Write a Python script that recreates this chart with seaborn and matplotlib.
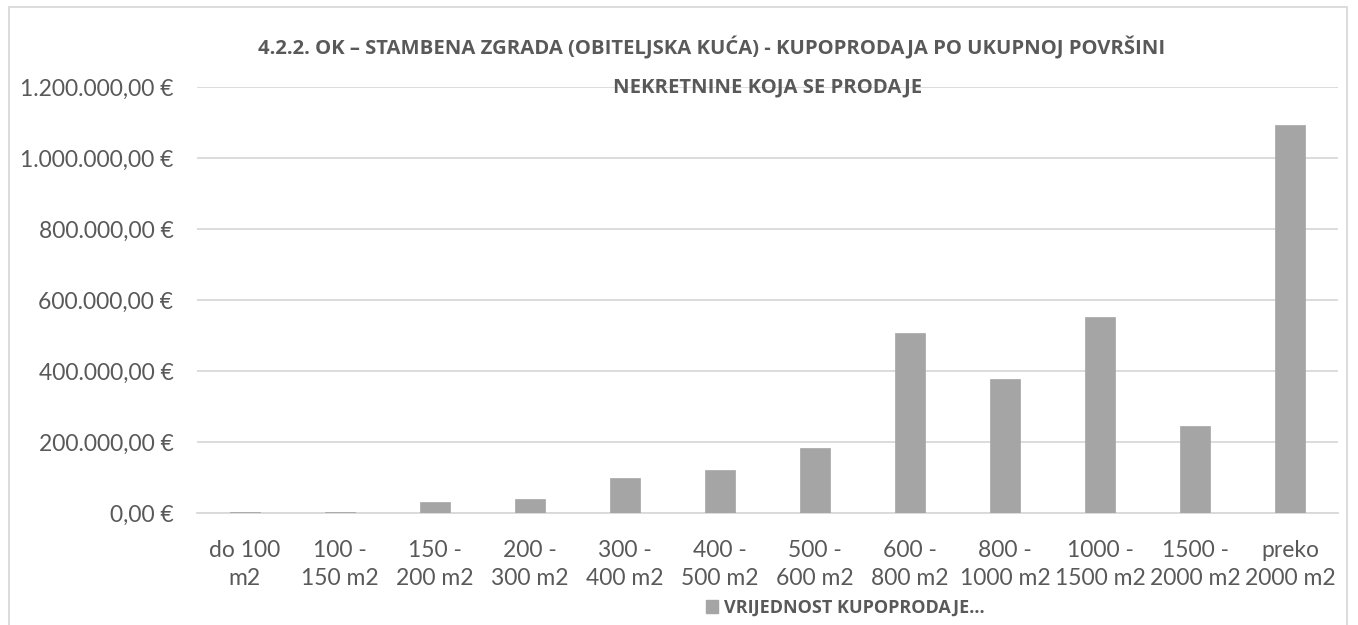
import matplotlib
matplotlib.use("Agg")
import matplotlib.pyplot as plt
import seaborn as sns
import pandas as pd
from matplotlib.patches import Patch, Rectangle
from matplotlib.ticker import FuncFormatter

categories = ["do 100\nm2", "100 -\n150 m2", "150 -\n200 m2", "200 -\n300 m2", "300 -\n400 m2",
              "400 -\n500 m2", "500 -\n600 m2", "600 -\n800 m2", "800 -\n1000 m2", "1000 -\n1500 m2",
              "1500 -\n2000 m2", "preko\n2000 m2"]
values = [4000, 3000, 31000, 40000, 99000, 121000, 185000, 507000, 377000, 554000, 245000, 1093000]
series_name = "VRIJEDNOST KUPOPRODAJE..."
title_line1 = "4.2.2. OK – STAMBENA ZGRADA (OBITELJSKA KUĆA) - KUPOPRODAJA PO UKUPNOJ POVRŠINI"
title_line2 = "NEKRETNINE KOJA SE PRODAJE"

sns.set_theme(style="white")
plt.rcParams['font.family'] = ['Lato', 'DejaVu Sans']

W, H = 1358, 625
fig = plt.figure(figsize=(W / 100, H / 100), dpi=100)
ax = fig.add_axes([197 / W, 1 - 513.3 / H, (1338 - 197) / W, (513.3 - 87.3) / H])

df = pd.DataFrame({"cat": categories, "val": values})
sns.barplot(data=df, x="cat", y="val", color="#a5a5a5", width=0.315, ax=ax,
            saturation=1, edgecolor="#a5a5a5", linewidth=0.5, zorder=3)

ax.set_ylim(0, 1200000)
ax.set_xlim(-0.5, 11.5)
ax.set_yticks(range(0, 1200001, 200000))


def fmt(v, pos):
    s = f"{v:,.2f}"
    s = s.replace(",", "X").replace(".", ",").replace("X", ".")
    return s + " €"


ax.yaxis.set_major_formatter(FuncFormatter(fmt))
ax.grid(axis="y", color="#d9d9d9", linewidth=1.3, zorder=0)
for sp in ["top", "right", "left"]:
    ax.spines[sp].set_visible(False)
ax.spines["bottom"].set_color("#d9d9d9")
ax.spines["bottom"].set_linewidth(1.3)
ax.set_xlabel("")
ax.set_ylabel("")
ax.tick_params(axis="y", length=0, pad=17, labelsize=16.5, labelcolor="#595959")
ax.tick_params(axis="x", length=0, pad=19, labelsize=16.5, labelcolor="#595959")
for t in ax.get_xticklabels():
    t.set_linespacing(1.45)

bold_family = ['Open Sans', 'DejaVu Sans']
fig.text(712 / W, 1 - 48 / H, title_line1, ha="center", va="center", fontsize=14.6,
         fontweight="bold", color="#595959", family=bold_family)
fig.text(768 / W, 1 - 87 / H, title_line2, ha="center", va="center", fontsize=14.6,
         fontweight="bold", color="#595959", family=bold_family)

handle = Patch(facecolor="#a5a5a5", edgecolor="#a5a5a5")
fig.legend([handle], [series_name], loc="center", bbox_to_anchor=(845 / W, 1 - 608 / H),
           frameon=False, prop={"size": 13, "weight": "bold", "family": bold_family},
           labelcolor="#595959", handlelength=0.7, handleheight=0.7, handletextpad=0.3)

fig.patches.append(Rectangle((8.5 / W, -0.05), (1347 - 8.5) / W, 1 - 7 / H + 0.05,
                             transform=fig.transFigure, fill=False, edgecolor="#d9d9d9",
                             linewidth=1.3))

fig.savefig("out.png", dpi=100, facecolor="white")
